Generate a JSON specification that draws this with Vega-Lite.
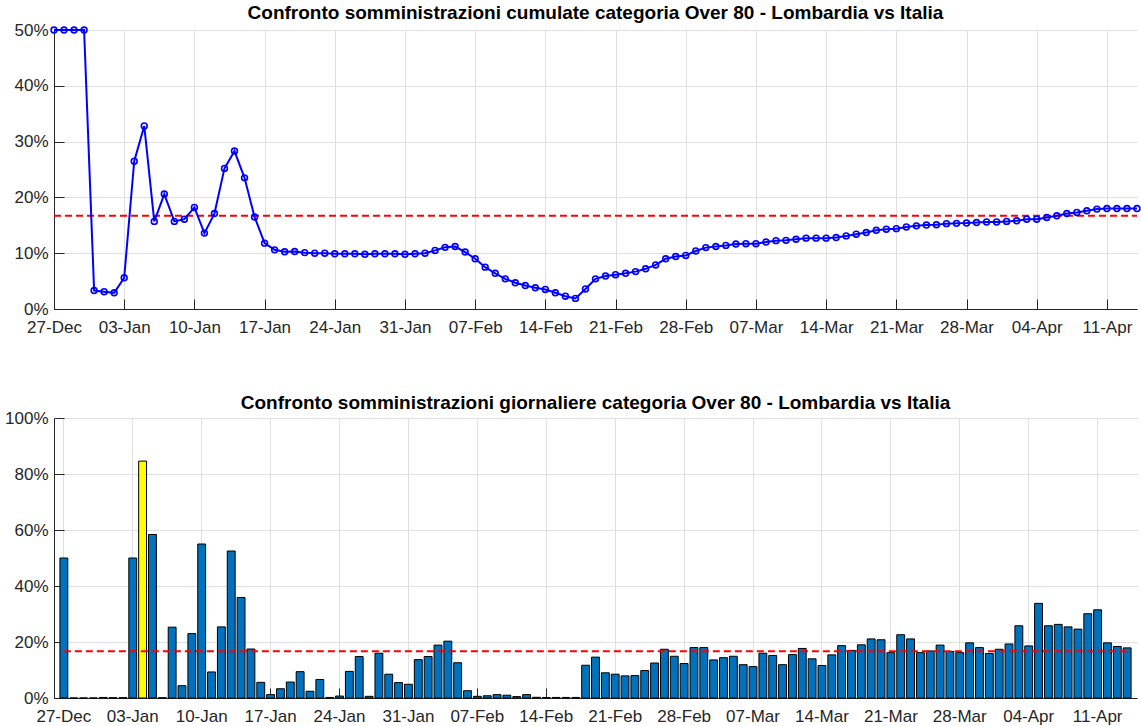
{
  "$schema": "https://vega.github.io/schema/vega-lite/v6.json",
  "padding": {"left": 4, "top": 4, "right": 4, "bottom": 2},
  "spacing": 59,
  "config": {
    "view": {"stroke": null},
    "font": "Liberation Sans",
    "axis": {
      "labelFont": "Liberation Sans",
      "labelFontSize": 17,
      "labelColor": "#262626",
      "domainColor": "#262626",
      "domainWidth": 1,
      "tickColor": "#262626",
      "tickSize": -10,
      "labelPadding": 16,
      "gridColor": "#dfdfdf",
      "gridWidth": 1,
      "title": null
    },
    "axisX": {"labelPadding": 20},
    "title": {
      "font": "Liberation Sans",
      "fontSize": 19,
      "fontWeight": "bold",
      "color": "#000000",
      "frame": "group",
      "anchor": "middle",
      "baseline": "alphabetic"
    }
  },
  "datasets": {
    "d": [
      {"date": "2020-12-27", "cumulata": 50, "giornaliera": 50.0},
      {"date": "2020-12-28", "cumulata": 50, "giornaliera": 0},
      {"date": "2020-12-29", "cumulata": 50, "giornaliera": 0},
      {"date": "2020-12-30", "cumulata": 50, "giornaliera": 0},
      {"date": "2020-12-31", "cumulata": 3.3, "giornaliera": 0.2},
      {"date": "2021-01-01", "cumulata": 3.1, "giornaliera": 0.1},
      {"date": "2021-01-02", "cumulata": 2.9, "giornaliera": 0.1},
      {"date": "2021-01-03", "cumulata": 5.6, "giornaliera": 50.0},
      {"date": "2021-01-04", "cumulata": 26.5, "giornaliera": 84.6},
      {"date": "2021-01-05", "cumulata": 32.8, "giornaliera": 58.4},
      {"date": "2021-01-06", "cumulata": 15.7, "giornaliera": 0.1},
      {"date": "2021-01-07", "cumulata": 20.6, "giornaliera": 25.3},
      {"date": "2021-01-08", "cumulata": 15.7, "giornaliera": 4.4},
      {"date": "2021-01-09", "cumulata": 16.1, "giornaliera": 23.0},
      {"date": "2021-01-10", "cumulata": 18.2, "giornaliera": 55.0},
      {"date": "2021-01-11", "cumulata": 13.6, "giornaliera": 9.3},
      {"date": "2021-01-12", "cumulata": 17.1, "giornaliera": 25.4},
      {"date": "2021-01-13", "cumulata": 25.2, "giornaliera": 52.5},
      {"date": "2021-01-14", "cumulata": 28.3, "giornaliera": 35.9},
      {"date": "2021-01-15", "cumulata": 23.5, "giornaliera": 17.5},
      {"date": "2021-01-16", "cumulata": 16.5, "giornaliera": 5.6},
      {"date": "2021-01-17", "cumulata": 11.8, "giornaliera": 1.2},
      {"date": "2021-01-18", "cumulata": 10.6, "giornaliera": 3.3},
      {"date": "2021-01-19", "cumulata": 10.25, "giornaliera": 5.7},
      {"date": "2021-01-20", "cumulata": 10.3, "giornaliera": 9.4},
      {"date": "2021-01-21", "cumulata": 10.1, "giornaliera": 2.4},
      {"date": "2021-01-22", "cumulata": 10.0, "giornaliera": 6.6},
      {"date": "2021-01-23", "cumulata": 10.0, "giornaliera": 0.2},
      {"date": "2021-01-24", "cumulata": 9.9, "giornaliera": 0.7},
      {"date": "2021-01-25", "cumulata": 9.9, "giornaliera": 9.5},
      {"date": "2021-01-26", "cumulata": 9.9, "giornaliera": 14.8},
      {"date": "2021-01-27", "cumulata": 9.8, "giornaliera": 0.6},
      {"date": "2021-01-28", "cumulata": 9.9, "giornaliera": 16.0},
      {"date": "2021-01-29", "cumulata": 9.9, "giornaliera": 8.5},
      {"date": "2021-01-30", "cumulata": 9.9, "giornaliera": 5.5},
      {"date": "2021-01-31", "cumulata": 9.8, "giornaliera": 4.9},
      {"date": "2021-02-01", "cumulata": 9.9, "giornaliera": 13.7},
      {"date": "2021-02-02", "cumulata": 10.0, "giornaliera": 14.8},
      {"date": "2021-02-03", "cumulata": 10.5, "giornaliera": 18.9},
      {"date": "2021-02-04", "cumulata": 11.05, "giornaliera": 20.3},
      {"date": "2021-02-05", "cumulata": 11.2, "giornaliera": 12.6},
      {"date": "2021-02-06", "cumulata": 10.2, "giornaliera": 2.6},
      {"date": "2021-02-07", "cumulata": 9.0, "giornaliera": 0.6},
      {"date": "2021-02-08", "cumulata": 7.5, "giornaliera": 0.8},
      {"date": "2021-02-09", "cumulata": 6.4, "giornaliera": 1.2},
      {"date": "2021-02-10", "cumulata": 5.4, "giornaliera": 1.0},
      {"date": "2021-02-11", "cumulata": 4.7, "giornaliera": 0.5},
      {"date": "2021-02-12", "cumulata": 4.2, "giornaliera": 1.2},
      {"date": "2021-02-13", "cumulata": 3.8, "giornaliera": 0.25},
      {"date": "2021-02-14", "cumulata": 3.5, "giornaliera": 0.15},
      {"date": "2021-02-15", "cumulata": 2.9, "giornaliera": 0.2},
      {"date": "2021-02-16", "cumulata": 2.3, "giornaliera": 0.2},
      {"date": "2021-02-17", "cumulata": 1.9, "giornaliera": 0.2},
      {"date": "2021-02-18", "cumulata": 3.6, "giornaliera": 11.7},
      {"date": "2021-02-19", "cumulata": 5.4, "giornaliera": 14.6},
      {"date": "2021-02-20", "cumulata": 5.9, "giornaliera": 9.0},
      {"date": "2021-02-21", "cumulata": 6.15, "giornaliera": 8.5},
      {"date": "2021-02-22", "cumulata": 6.4, "giornaliera": 7.9},
      {"date": "2021-02-23", "cumulata": 6.7, "giornaliera": 8.0},
      {"date": "2021-02-24", "cumulata": 7.2, "giornaliera": 9.8},
      {"date": "2021-02-25", "cumulata": 7.9, "giornaliera": 12.5},
      {"date": "2021-02-26", "cumulata": 9.0, "giornaliera": 17.4},
      {"date": "2021-02-27", "cumulata": 9.4, "giornaliera": 14.9},
      {"date": "2021-02-28", "cumulata": 9.6, "giornaliera": 12.3},
      {"date": "2021-03-01", "cumulata": 10.4, "giornaliera": 18.0},
      {"date": "2021-03-02", "cumulata": 11.0, "giornaliera": 18.0},
      {"date": "2021-03-03", "cumulata": 11.2, "giornaliera": 13.6},
      {"date": "2021-03-04", "cumulata": 11.4, "giornaliera": 14.4},
      {"date": "2021-03-05", "cumulata": 11.65, "giornaliera": 14.9},
      {"date": "2021-03-06", "cumulata": 11.7, "giornaliera": 11.9},
      {"date": "2021-03-07", "cumulata": 11.7, "giornaliera": 11.2},
      {"date": "2021-03-08", "cumulata": 12.0, "giornaliera": 16.0},
      {"date": "2021-03-09", "cumulata": 12.25, "giornaliera": 15.2},
      {"date": "2021-03-10", "cumulata": 12.3, "giornaliera": 11.9},
      {"date": "2021-03-11", "cumulata": 12.5, "giornaliera": 15.5},
      {"date": "2021-03-12", "cumulata": 12.7, "giornaliera": 17.7},
      {"date": "2021-03-13", "cumulata": 12.7, "giornaliera": 14.0},
      {"date": "2021-03-14", "cumulata": 12.7, "giornaliera": 11.6},
      {"date": "2021-03-15", "cumulata": 12.8, "giornaliera": 15.4},
      {"date": "2021-03-16", "cumulata": 13.1, "giornaliera": 18.7},
      {"date": "2021-03-17", "cumulata": 13.4, "giornaliera": 17.0},
      {"date": "2021-03-18", "cumulata": 13.7, "giornaliera": 19.0},
      {"date": "2021-03-19", "cumulata": 14.1, "giornaliera": 21.1},
      {"date": "2021-03-20", "cumulata": 14.3, "giornaliera": 20.8},
      {"date": "2021-03-21", "cumulata": 14.4, "giornaliera": 16.2},
      {"date": "2021-03-22", "cumulata": 14.7, "giornaliera": 22.6},
      {"date": "2021-03-23", "cumulata": 14.9, "giornaliera": 21.1},
      {"date": "2021-03-24", "cumulata": 15.05, "giornaliera": 16.2},
      {"date": "2021-03-25", "cumulata": 15.1, "giornaliera": 16.8},
      {"date": "2021-03-26", "cumulata": 15.3, "giornaliera": 18.9},
      {"date": "2021-03-27", "cumulata": 15.35, "giornaliera": 16.6},
      {"date": "2021-03-28", "cumulata": 15.4, "giornaliera": 16.2},
      {"date": "2021-03-29", "cumulata": 15.5, "giornaliera": 19.7},
      {"date": "2021-03-30", "cumulata": 15.6, "giornaliera": 18.0},
      {"date": "2021-03-31", "cumulata": 15.6, "giornaliera": 15.9},
      {"date": "2021-04-01", "cumulata": 15.7, "giornaliera": 17.4},
      {"date": "2021-04-02", "cumulata": 15.8, "giornaliera": 19.3},
      {"date": "2021-04-03", "cumulata": 16.1, "giornaliera": 25.8},
      {"date": "2021-04-04", "cumulata": 16.1, "giornaliera": 18.6},
      {"date": "2021-04-05", "cumulata": 16.4, "giornaliera": 33.8},
      {"date": "2021-04-06", "cumulata": 16.7, "giornaliera": 25.8},
      {"date": "2021-04-07", "cumulata": 17.1, "giornaliera": 26.3},
      {"date": "2021-04-08", "cumulata": 17.3, "giornaliera": 25.4},
      {"date": "2021-04-09", "cumulata": 17.6, "giornaliera": 24.6},
      {"date": "2021-04-10", "cumulata": 17.9, "giornaliera": 30.1},
      {"date": "2021-04-11", "cumulata": 18.0, "giornaliera": 31.5},
      {"date": "2021-04-12", "cumulata": 18.0, "giornaliera": 19.7},
      {"date": "2021-04-13", "cumulata": 18.0, "giornaliera": 18.4},
      {"date": "2021-04-14", "cumulata": 18.0, "giornaliera": 17.9}
    ]
  },
  "vconcat": [
    {
      "title": {"text": "Confronto somministrazioni cumulate categoria Over 80 - Lombardia vs Italia", "offset": -2},
      "width": 1083,
      "height": 279,
      "data": {"name": "d"},
      "encoding": {
        "x": {
          "field": "date",
          "type": "ordinal",
          "scale": {"type": "point", "padding": 0},
          "axis": {
            "values": ["2020-12-27", "2021-01-03", "2021-01-10", "2021-01-17", "2021-01-24", "2021-01-31", "2021-02-07", "2021-02-14", "2021-02-21", "2021-02-28", "2021-03-07", "2021-03-14", "2021-03-21", "2021-03-28", "2021-04-04", "2021-04-11"],
            "labelExpr": "utcFormat(toDate(datum.value), '%d-%b')",
            "labelAngle": 0,
            "grid": true
          }
        }
      },
      "layer": [
        {
          "mark": {"type": "line", "color": "#ff0000", "strokeWidth": 2, "strokeDash": [7, 4]},
          "encoding": {
            "y": {"datum": 16.7, "type": "quantitative", "scale": {"domain": [0, 50]},
              "axis": {"values": [0, 10, 20, 30, 40, 50], "labelExpr": "datum.value + '%'", "grid": true}}
          }
        },
        {
          "mark": {"type": "line", "color": "#0000ff", "strokeWidth": 2,
            "point": {"filled": false, "size": 34, "strokeWidth": 1.6, "color": "#0000ff"}},
          "encoding": {
            "y": {"field": "cumulata", "type": "quantitative"}
          }
        }
      ]
    },
    {
      "title": {"text": "Confronto somministrazioni giornaliere categoria Over 80 - Lombardia vs Italia", "offset": -4},
      "width": 1083,
      "height": 280,
      "data": {"name": "d"},
      "transform": [{"joinaggregate": [{"op": "max", "field": "giornaliera", "as": "massimo"}]}],
      "encoding": {
        "x": {
          "field": "date",
          "type": "ordinal",
          "scale": {"type": "band", "paddingInner": 0.2, "paddingOuter": 0.6},
          "axis": {
            "values": ["2020-12-27", "2021-01-03", "2021-01-10", "2021-01-17", "2021-01-24", "2021-01-31", "2021-02-07", "2021-02-14", "2021-02-21", "2021-02-28", "2021-03-07", "2021-03-14", "2021-03-21", "2021-03-28", "2021-04-04", "2021-04-11"],
            "labelExpr": "utcFormat(toDate(datum.value), '%d-%b')",
            "labelAngle": 0,
            "grid": true,
            "bandPosition": 0.5
          }
        }
      },
      "layer": [
        {
          "mark": {"type": "bar", "stroke": "#000000", "strokeWidth": 1},
          "encoding": {
            "y": {"field": "giornaliera", "type": "quantitative", "scale": {"domain": [0, 100]},
              "axis": {"values": [0, 20, 40, 60, 80, 100], "labelExpr": "datum.value + '%'", "grid": true}},
            "color": {"condition": {"test": "datum.giornaliera === datum.massimo", "value": "#ffff00"}, "value": "#0072bd"}
          }
        },
        {
          "mark": {"type": "line", "color": "#ff0000", "strokeWidth": 2, "strokeDash": [7, 4]},
          "encoding": {
            "y": {"datum": 16.7, "type": "quantitative"}
          }
        }
      ]
    }
  ]
}
